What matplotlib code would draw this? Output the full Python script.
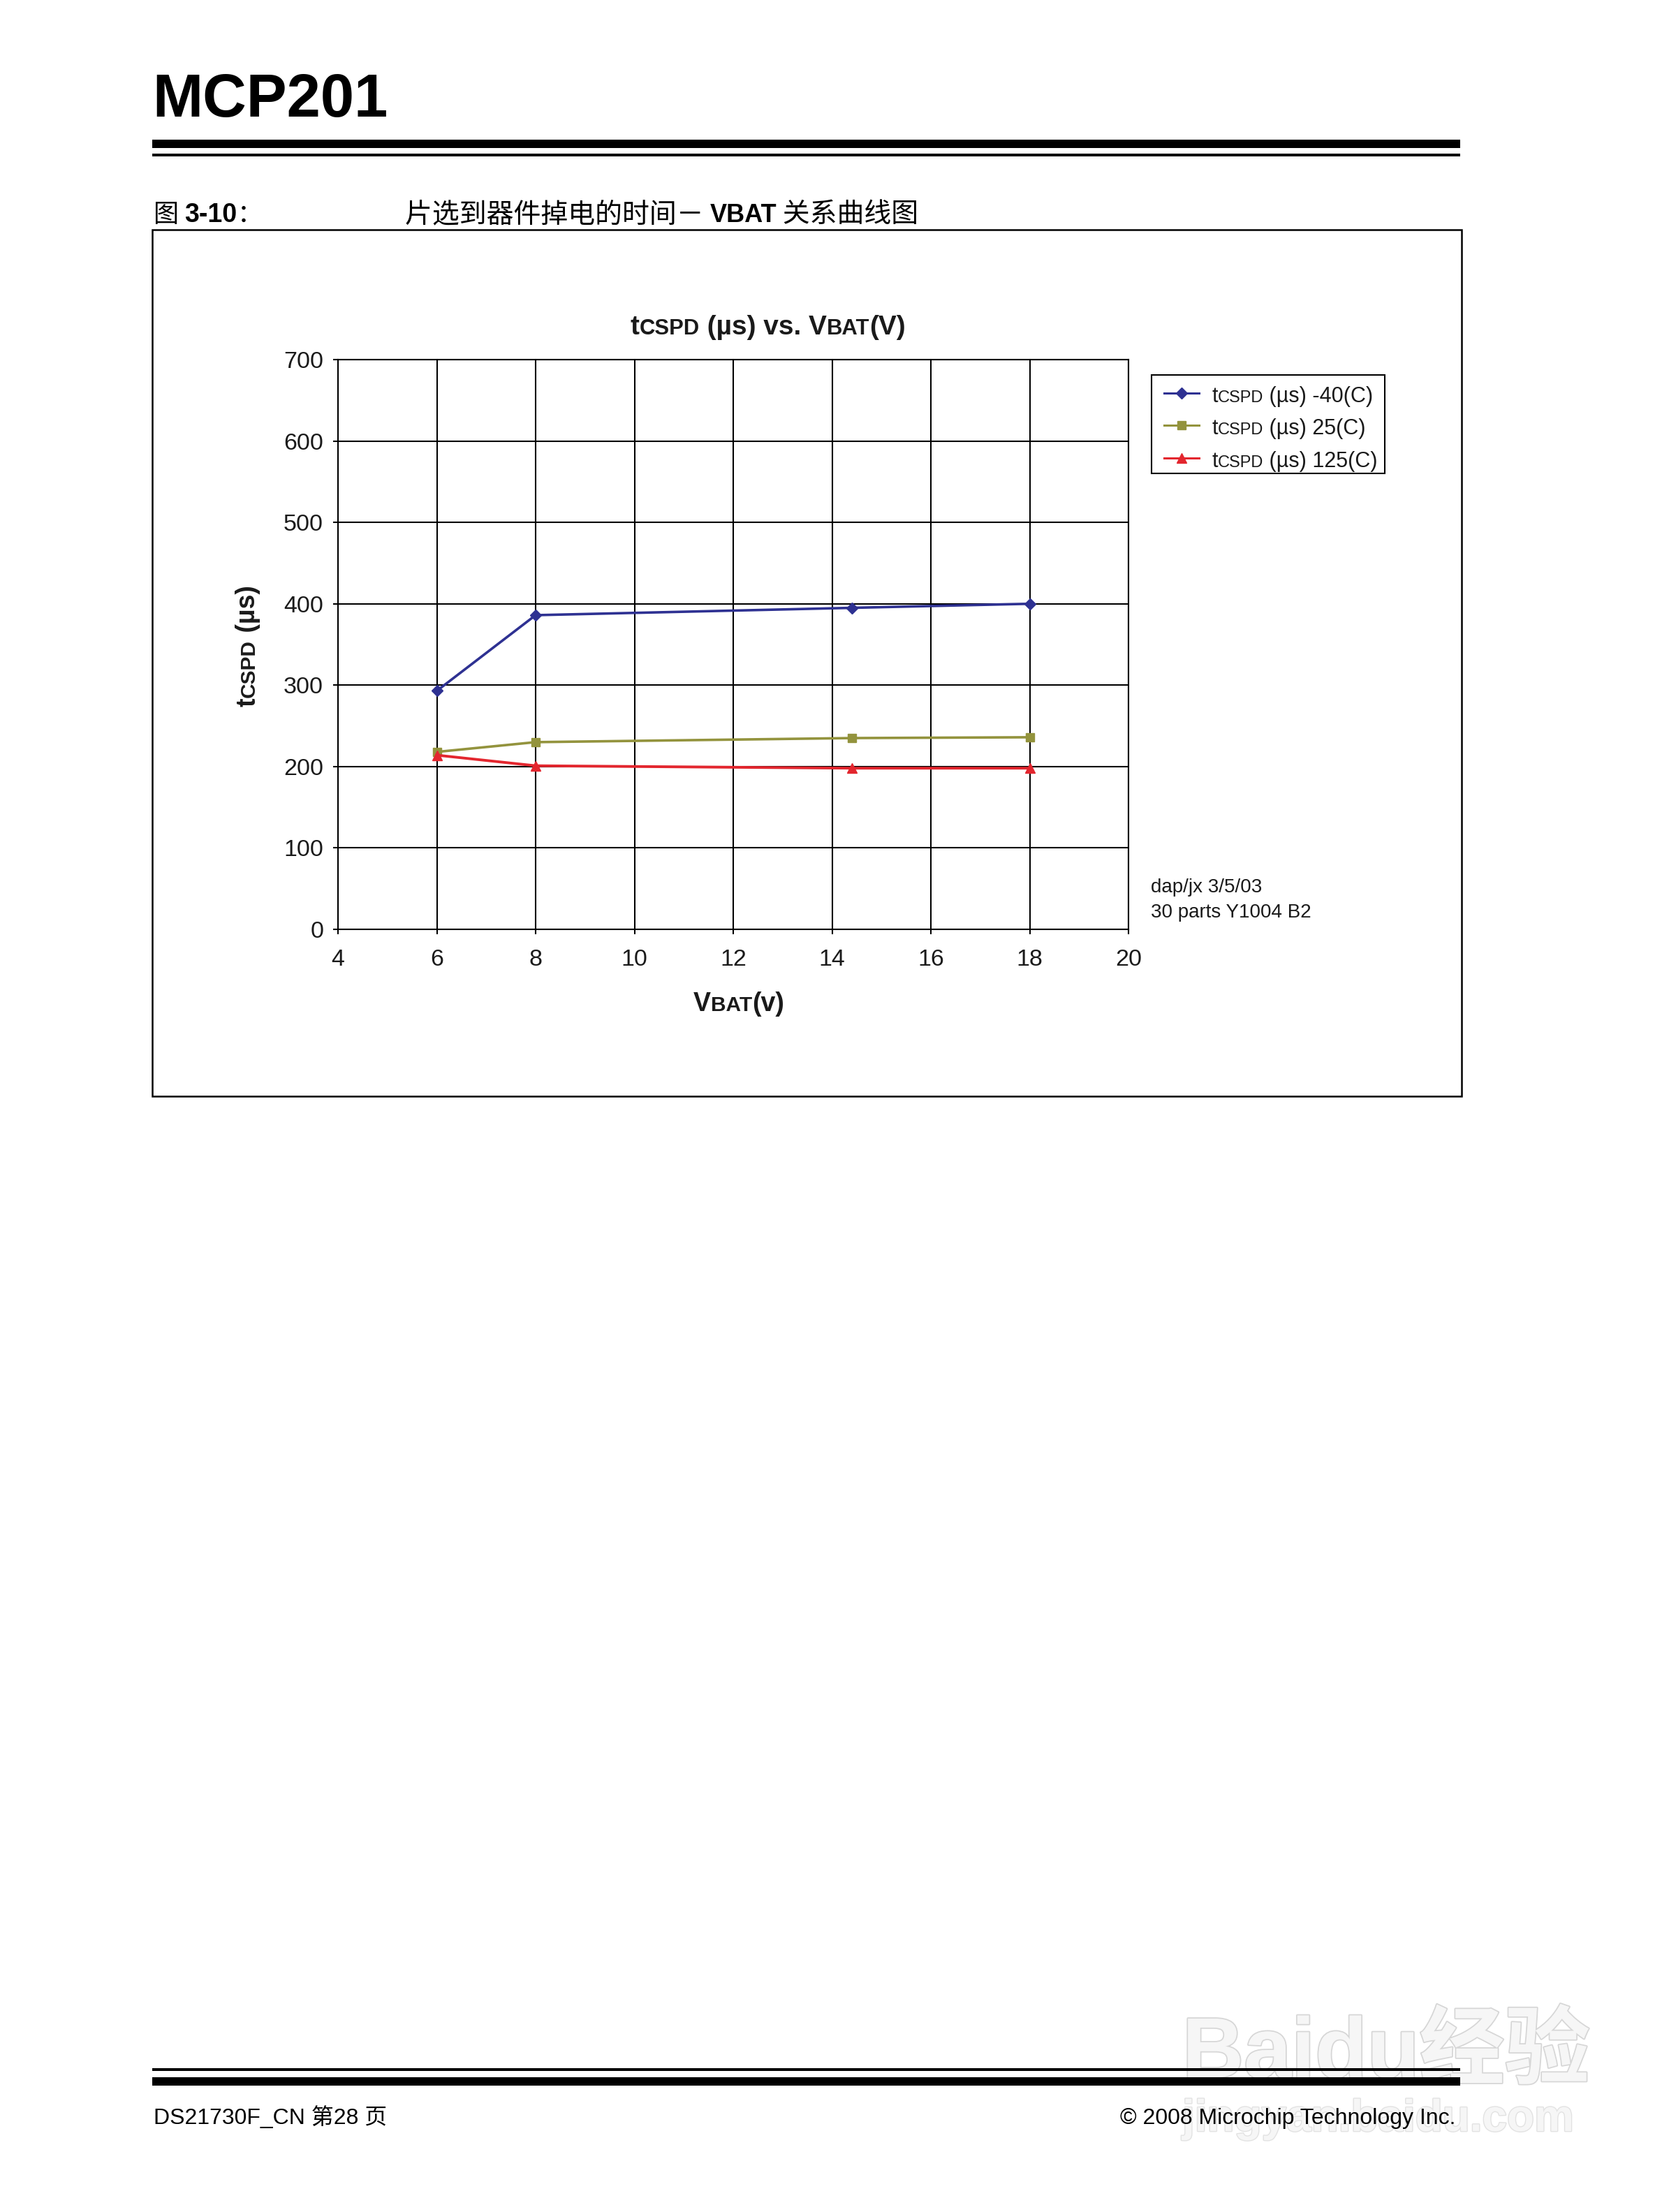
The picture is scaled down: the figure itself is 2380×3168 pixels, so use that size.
import matplotlib
matplotlib.use('Agg')
import matplotlib.pyplot as plt
from matplotlib.patches import Rectangle
from matplotlib.lines import Line2D
import matplotlib.patheffects as pe

# ---------------- data ----------------
vbat = [6, 8, 14.4, 18]
t_m40 = [293, 386, 395, 400]
t_25 = [218, 230, 235, 236]
t_125 = [214, 201, 198, 198]
series_labels = ['-40(C)', '25(C)', '125(C)']
x_ticks = [4, 6, 8, 10, 12, 14, 16, 18, 20]
y_ticks = [0, 100, 200, 300, 400, 500, 600, 700]

# ---------------- style ----------------
W, H, DPI = 2380, 3168, 100
LAT = 'Liberation Sans'
CJK = 'Noto Sans CJK SC'
BLUE = '#2E3192'
OLIVE = '#93933D'
RED = '#E3262E'
plt.rcParams['font.family'] = [LAT, CJK, 'DejaVu Sans']

fig = plt.figure(figsize=(W / DPI, H / DPI), dpi=DPI)
fig.patch.set_facecolor('white')
renderer = fig.canvas.get_renderer()


def fx(px):
    return px / W


def fy(py):
    return 1 - py / H


def text_w(s, size, weight, family):
    t = fig.text(0, 0, '|' + s + '|', fontsize=size, weight=weight, family=family)
    w1 = t.get_window_extent(renderer=renderer).width
    t.set_text('||')
    w0 = t.get_window_extent(renderer=renderer).width
    t.remove()
    return w1 - w0


def rich(x, y, pieces, ha='left', rotation=0, color='black', zorder=5):
    widths = [text_w(s, sz, wt, fam) for s, sz, wt, fam in pieces]
    total = sum(widths)
    cur = {'left': 0, 'center': -total / 2, 'right': -total}[ha]
    for (s, sz, wt, fam), w in zip(pieces, widths):
        if rotation == 0:
            px, py = x + cur, y
        else:
            px, py = x, y - cur
        fig.text(fx(px), fy(py), s, fontsize=sz, weight=wt, family=fam,
                 ha='left', va='baseline', rotation=rotation,
                 rotation_mode='anchor', color=color, zorder=zorder)
        cur += w


def hbar(x0, x1, y0, y1, color='black'):
    fig.patches.append(Rectangle((fx(x0), fy(y1)), fx(x1) - fx(x0), fy(y0) - fy(y1),
                                 transform=fig.transFigure, facecolor=color,
                                 edgecolor='none', zorder=2))


# ---------------- page header ----------------
fig.text(fx(218), fy(167), 'MCP201', fontsize=62.5, weight='bold', family=LAT,
         va='baseline', ha='left')
hbar(218, 2091, 200, 212)
hbar(218, 2091, 220, 224)

rich(220, 318, [('图 ', 26, 'normal', CJK), ('3-10', 27, 'bold', LAT),
                ('：', 26, 'normal', CJK)])
rich(580, 318, [('片选到器件掉电的时间－ ', 28, 'normal', CJK),
                ('VBAT', 26, 'bold', LAT),
                (' 关系曲线图', 28, 'normal', CJK)])

# chart frame
fig.patches.append(Rectangle((fx(218), fy(1570)), fx(2093) - fx(218), fy(329) - fy(1570),
                             transform=fig.transFigure, facecolor='none',
                             edgecolor='black', linewidth=1.8))

# ---------------- axes ----------------
ax = fig.add_axes([fx(484), fy(1331), fx(1616) - fx(484), fy(515) - fy(1331)])
ax.set_xlim(4, 20)
ax.set_ylim(0, 700)
ax.set_xticks(x_ticks)
ax.set_yticks(y_ticks)
ax.grid(True, color='black', linewidth=1.5)
ax.set_axisbelow(True)
for sp in ax.spines.values():
    sp.set_linewidth(1.5)
    sp.set_color('black')
ax.tick_params(axis='both', labelsize=24.5, length=5, width=1.5, direction='out',
               colors='black', labelcolor='#1a1a1a')
ax.tick_params(axis='x', pad=15)
ax.tick_params(axis='y', pad=10)
for lab in ax.get_xticklabels() + ax.get_yticklabels():
    lab.set_family(LAT)

ax.plot(vbat, t_m40, color=BLUE, lw=2.6, marker='D', ms=8.5, zorder=3)
ax.plot(vbat, t_25, color=OLIVE, lw=2.6, marker='s', ms=9, zorder=3)
ax.plot(vbat, t_125, color=RED, lw=2.8, marker='^', ms=10, zorder=3)

# chart title and axis labels
rich(1100, 479, [('t', 28, 'bold', LAT), ('CSPD', 22.3, 'bold', LAT),
                 (' (µs) vs. V', 28, 'bold', LAT), ('BAT', 22.3, 'bold', LAT),
                 ('(V)', 28, 'bold', LAT)], ha='center', color='#1a1a1a')
rich(1058, 1448, [('V', 27, 'bold', LAT), ('BAT', 21.5, 'bold', LAT),
                  ('(v)', 27, 'bold', LAT)], ha='center', color='#1a1a1a')
rich(365, 925, [('t', 27, 'bold', LAT), ('CSPD', 21.5, 'bold', LAT),
                (' (µs)', 27, 'bold', LAT)], ha='center', rotation=90, color='#1a1a1a')

# ---------------- legend ----------------
fig.patches.append(Rectangle((fx(1649), fy(678)), fx(1983) - fx(1649), fy(537) - fy(678),
                             transform=fig.transFigure, facecolor='white',
                             edgecolor='black', linewidth=1.5))
leg_style = [(BLUE, 'D', 8), (OLIVE, 's', 8.5), (RED, '^', 9.5)]
row_y = [563, 609, 656]
for (col, mk, ms), lbl, yy in zip(leg_style, series_labels, row_y):
    fig.add_artist(Line2D([fx(1667), fx(1717)], [fy(yy), fy(yy)], transform=fig.transFigure,
                          color=col, lw=2.2))
    fig.add_artist(Line2D([fx(1692)], [fy(yy)], transform=fig.transFigure,
                          color=col, marker=mk, ms=ms, lw=0))
    rich(1735, yy + 13, [('t', 22, 'normal', LAT), ('CSPD', 17, 'normal', LAT),
                         (' (µs) ' + lbl, 22, 'normal', LAT)], color='#1a1a1a')

# note
fig.text(fx(1648), fy(1278), 'dap/jx 3/5/03', fontsize=20, family=LAT, color='#1a1a1a',
         va='baseline')
fig.text(fx(1648), fy(1314), '30 parts Y1004 B2', fontsize=20, family=LAT, color='#1a1a1a',
         va='baseline')

# ---------------- footer ----------------
hbar(218, 2091, 2962, 2966)
hbar(218, 2091, 2975, 2987)
fig.text(fx(220), fy(3042), 'DS21730F_CN 第28 页', fontsize=23,
         family=[LAT, CJK], va='baseline', ha='left', zorder=6)
fig.text(fx(2084), fy(3042), '© 2008 Microchip Technology Inc.', fontsize=23,
         family=[LAT, CJK], va='baseline', ha='right', zorder=6)

# watermark (drawn behind the footer text)
wm = [pe.withStroke(linewidth=2.5, foreground='#d6d6d6')]
fig.text(fx(1693), fy(2975), 'Baidu经验', fontsize=88, weight='bold', family=[LAT, CJK],
         color='#f6f6f6', va='baseline', ha='left', path_effects=wm, zorder=1)
fig.text(fx(1693), fy(3052), 'jingyan.baidu.com', fontsize=46, weight='bold',
         family=[LAT, CJK], color='#f6f6f6', va='baseline', ha='left',
         path_effects=[pe.withStroke(linewidth=2, foreground='#e2e2e2')], zorder=1)

fig.savefig('out.png', dpi=DPI, facecolor='white')
